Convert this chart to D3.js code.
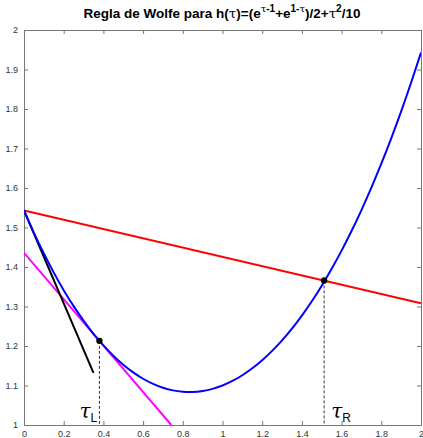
<!DOCTYPE html>
<meta charset="utf-8">
<style>
body { margin: 0; background: #fff; }
svg { display: block; background: #fff; }
text { font-family: "Liberation Sans", Arial, sans-serif; }
.tick text { font-size: 9px; fill: #333; }
.axis path, .axis line { stroke: #777; }
</style>
<body>
<div id="main"></div>
<script src="https://d3js.org/d3.v7.min.js"></script>
<script>

// curve samples h(tau)
var tau = [0, 0.05, 0.1, 0.15, 0.2, 0.25, 0.3, 0.35, 0.4, 0.45, 0.5, 0.55, 0.6, 0.65, 0.7, 0.75, 0.8, 0.85, 0.9, 0.95,
           1, 1.05, 1.1, 1.15, 1.2, 1.25, 1.3, 1.35, 1.4, 1.45, 1.5, 1.55, 1.6, 1.65, 1.7, 1.75, 1.8, 1.85, 1.9, 1.95, 2];
var hval = [1.5431, 1.4865, 1.4341, 1.3858, 1.3414, 1.3009, 1.2642, 1.2310, 1.2015, 1.1754, 1.1526, 1.1332, 1.1171, 1.1041,
            1.0943, 1.0877, 1.0841, 1.0835, 1.0860, 1.0915, 1.1000, 1.1115, 1.1260, 1.1435, 1.1641, 1.1877, 1.2143, 1.2441,
            1.2771, 1.3132, 1.3526, 1.3954, 1.4415, 1.4910, 1.5442, 1.6009, 1.6614, 1.7258, 1.7941, 1.8665, 1.9431];

// straight lines (end points)
var redLine = [[0, 1.543], [2, 1.308]];
var blackLine = [[0, 1.543], [0.35, 1.132]];
var magentaLine = [[0, 1.436], [0.742, 1.0]];

// marked points: tau_L and tau_R
var marks = [[0.38, 1.213, "L"], [1.512, 1.366, "R"]];

var xTicks = [0, 0.2, 0.4, 0.6, 0.8, 1, 1.2, 1.4, 1.6, 1.8, 2];
var yTicks = [1, 1.1, 1.2, 1.3, 1.4, 1.5, 1.6, 1.7, 1.8, 1.9, 2];

var margin = {top: 30, right: 2, bottom: 13, left: 24},
    W = 423, H = 438,
    width = W - margin.left - margin.right,
    height = H - margin.top - margin.bottom;

var x = d3.scaleLinear().domain([0, 2]).range([0, width]);
var y = d3.scaleLinear().domain([1, 2]).range([height, 0]);

var svg = d3.select("#main").append("svg")
    .attr("width", W)
    .attr("height", H);

var g = svg.append("g")
    .attr("transform", "translate(" + margin.left + "," + margin.top + ")");

var fmt = function(d) { return d3.format("")(+d.toFixed(1)); };

g.append("g").attr("class", "axis")
  .attr("transform", "translate(0," + height + ")")
  .call(d3.axisBottom(x).tickValues(xTicks).tickFormat(fmt).tickSizeInner(-4).tickSizeOuter(0).tickPadding(6));
g.append("g").attr("class", "axis")
  .call(d3.axisTop(x).tickValues(xTicks).tickFormat("").tickSizeInner(-4).tickSizeOuter(0));
g.append("g").attr("class", "axis")
  .call(d3.axisLeft(y).tickValues(yTicks).tickFormat(fmt).tickSizeInner(-4).tickSizeOuter(0).tickPadding(6));
g.append("g").attr("class", "axis")
  .attr("transform", "translate(" + width + ",0)")
  .call(d3.axisRight(y).tickValues(yTicks).tickFormat("").tickSizeInner(-4).tickSizeOuter(0));

g.append("clipPath").attr("id", "clip")
  .append("rect").attr("width", width).attr("height", height);

var plot = g.append("g").attr("clip-path", "url(#clip)");

var line = d3.line().x(d => x(d[0])).y(d => y(d[1]));

plot.append("path").datum(redLine).attr("d", line)
  .attr("fill", "none").attr("stroke", "#ff0000").attr("stroke-width", 2);
plot.append("path").datum(magentaLine).attr("d", line)
  .attr("fill", "none").attr("stroke", "#ff00ff").attr("stroke-width", 2);
plot.append("path").datum(blackLine).attr("d", line)
  .attr("fill", "none").attr("stroke", "#000").attr("stroke-width", 2);

var curve = d3.line().curve(d3.curveNatural)
  .x((d, i) => x(tau[i])).y(d => y(d));
plot.append("path").datum(hval).attr("d", curve)
  .attr("fill", "none").attr("stroke", "#0000ff").attr("stroke-width", 2);

// dashed drop lines
g.selectAll(".drop").data(marks).enter().append("line")
  .attr("x1", d => x(d[0])).attr("x2", d => x(d[0]))
  .attr("y1", d => y(d[1])).attr("y2", y(1))
  .attr("stroke", "#333").attr("stroke-width", 1)
  .attr("stroke-dasharray", "3,2");

g.selectAll(".dot").data(marks).enter().append("circle")
  .attr("cx", d => x(d[0])).attr("cy", d => y(d[1])).attr("r", 3.2)
  .attr("fill", "#000");

var lab = g.selectAll(".lab").data(marks).enter().append("text")
  .attr("x", d => x(d[0]) + (d[2] === "L" ? -20 : 7))
  .attr("y", height - 7);
lab.append("tspan")
  .style("font-family", "'DejaVu Serif', serif").style("font-style", "italic")
  .style("font-size", "20px").text("τ");
lab.append("tspan").attr("dy", 4)
  .style("font-size", "12px").text(d => d[2]);

// title
var serif = "'DejaVu Serif', serif";
var t = svg.append("text")
  .attr("x", 222).attr("y", 18)
  .attr("text-anchor", "middle")
  .style("font-size", "13.5px").style("font-weight", "bold");
t.append("tspan").text("Regla de Wolfe para h(");
t.append("tspan").style("font-weight", "normal").style("font-family", serif).text("τ");
t.append("tspan").text(")=(e");
t.append("tspan").attr("dy", -6).style("font-size", "10px").style("font-weight", "normal").style("font-family", serif).text("τ");
t.append("tspan").style("font-size", "10px").text("-1");
t.append("tspan").attr("dy", 6).text("+e");
t.append("tspan").attr("dy", -6).style("font-size", "10px").text("1-");
t.append("tspan").style("font-size", "10px").style("font-weight", "normal").style("font-family", serif).text("τ");
t.append("tspan").attr("dy", 6).text(")/2+");
t.append("tspan").style("font-weight", "normal").style("font-family", serif).text("τ");
t.append("tspan").attr("dy", -6).style("font-size", "10px").text("2");
t.append("tspan").attr("dy", 6).text("/10");

</script>
</body>
